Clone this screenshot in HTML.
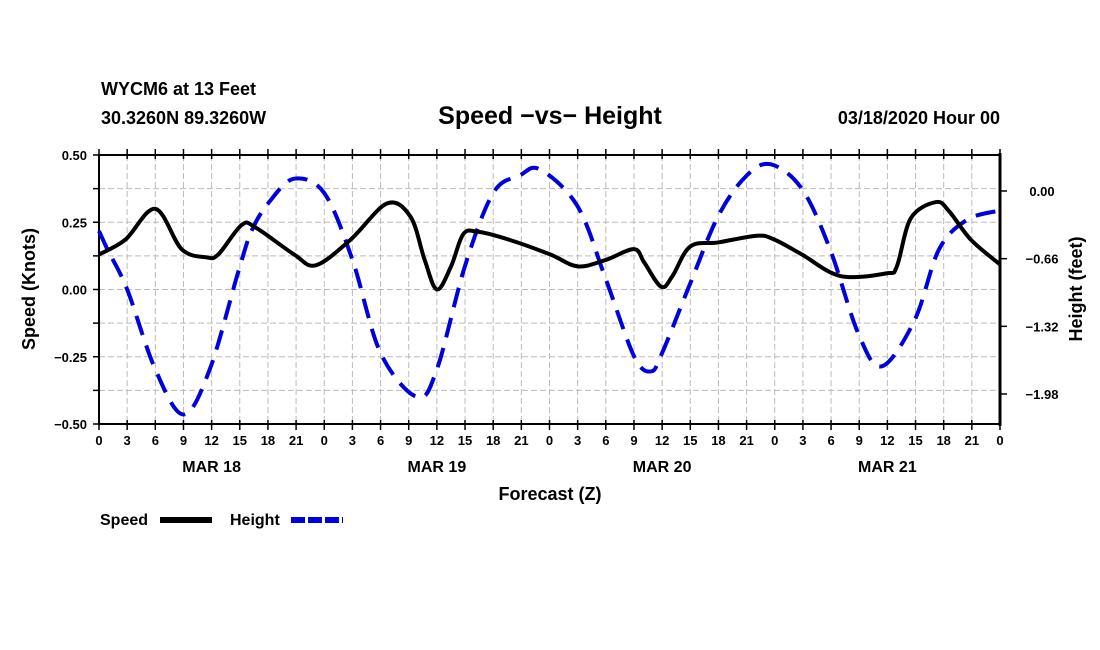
<!DOCTYPE html>
<html><head><meta charset="utf-8">
<style>
body{margin:0;background:#fff;}
svg{display:block;font-family:"Liberation Sans",sans-serif;font-weight:bold;}
</style></head>
<body>
<svg id="chart" width="1100" height="650" viewBox="0 0 1100 650">
<text x="101" y="95" font-size="18">WYCM6 at 13 Feet</text>
<text x="101" y="124" font-size="18">30.3260N 89.3260W</text>
<text x="550" y="124" font-size="25" text-anchor="middle">Speed −vs− Height</text>
<text x="1000" y="124" font-size="18" text-anchor="end">03/18/2020 Hour 00</text>
<g id="grid"></g>
<g id="axes"></g>
<g id="series"></g>
<text transform="translate(35,289) rotate(-90)" font-size="18" text-anchor="middle">Speed (Knots)</text>
<text transform="translate(1082,289) rotate(-90)" font-size="18" text-anchor="middle">Height (feet)</text>
<text x="550" y="500" font-size="18" text-anchor="middle">Forecast (Z)</text>
<g>
<text x="100" y="525" font-size="16">Speed</text>
<line x1="160" y1="520" x2="212" y2="520" stroke="#000" stroke-width="6"/>
<text x="230" y="525" font-size="16">Height</text>
<line x1="291" y1="520" x2="343" y2="520" stroke="#0000dd" stroke-width="6" stroke-dasharray="14,3"/>
</g>
</svg>
<script>
const speedHours=[0,2.8,6,8.8,11.4,12.7,15.2,16.7,20.8,23.1,26.8,30.7,33.2,34.7,36,37.5,38.8,40.3,43.7,48.1,51,54,57,58.1,59.9,61.1,63,66,70.1,72,74.9,79,83.9,85,86.5,89.2,90.6,92.9,96];
const speedValues=[0.13,0.185,0.30,0.15,0.12,0.13,0.24,0.23,0.13,0.09,0.185,0.32,0.27,0.11,0.0,0.085,0.205,0.215,0.185,0.13,0.086,0.11,0.15,0.10,0.01,0.05,0.16,0.175,0.20,0.185,0.13,0.05,0.06,0.085,0.265,0.325,0.29,0.185,0.093];
const heightHours=[0,0.9,3,6,9,11.8,14.8,16.3,18.2,20.8,24,27,30,33.9,36,39,42,44.8,47,51,54,57,58.8,60,63,66,69,71.6,74.9,77.9,80.9,83.4,86.9,89.5,92.5,96];
const heightValues=[-0.39,-0.57,-0.96,-1.74,-2.18,-1.74,-0.80,-0.38,-0.10,0.12,-0.02,-0.67,-1.58,-2.01,-1.74,-0.73,-0.02,0.15,0.21,-0.15,-0.86,-1.61,-1.76,-1.58,-0.90,-0.24,0.15,0.26,0.02,-0.57,-1.39,-1.71,-1.26,-0.57,-0.28,-0.19];
const speedTicks=[0.5,0.25,0,-0.25,-0.5];
const speedTickLabels=["0.50","0.25","0.00","\u22120.25","\u22120.50"];
const heightTicks=[0,-0.66,-1.32,-1.98];
const heightTickLabels=["0.00","\u22120.66","\u22121.32","\u22121.98"];
const hourTickLabels=["0","3","6","9","12","15","18","21"];
const dayLabels=["MAR 18","MAR 19","MAR 20","MAR 21"];

const L=99,R=1000,T=155,B=424;
const NS="http://www.w3.org/2000/svg";
const xS=h=>L+(R-L)*h/96;
const yS=v=>T+(0.5-v)*(B-T);
const yH=f=>191-f*(203/1.98);
function mk(tag,attrs,parent){const e=document.createElementNS(NS,tag);for(const k in attrs)e.setAttribute(k,attrs[k]);parent.appendChild(e);return e;}
const grid=document.getElementById('grid'),axes=document.getElementById('axes'),series=document.getElementById('series');
for(let i=1;i<32;i++){const x=xS(i*3);
 const g=mk('line',{x1:x,x2:x,y1:T,y2:B,stroke:'#bbb','stroke-width':1,'stroke-dasharray':'6,3'},grid);
 
 }
for(let i=1;i<8;i++){const y=T+(B-T)*i/8;
 const g=mk('line',{x1:L,x2:R,y1:y,y2:y,stroke:'#bbb','stroke-width':1,'stroke-dasharray':'6,3'},grid);
 
 }
mk('rect',{x:L,y:T,width:R-L,height:B-T,fill:'none',stroke:'#000','stroke-width':2},axes);
mk('line',{x1:R,x2:R,y1:T-2,y2:B+2,stroke:'#000','stroke-width':3},axes);
for(let i=0;i<=32;i++){const x=xS(i*3);
 mk('line',{x1:x,x2:x,y1:T-6,y2:T+4,stroke:'#000','stroke-width':1.5},axes);
 mk('line',{x1:x,x2:x,y1:B-4,y2:B+6,stroke:'#000','stroke-width':1.5},axes);
 const t=mk('text',{x:x,y:B+21,'font-size':13,'text-anchor':'middle'},axes);
 t.textContent=hourTickLabels[i%8];
 
 }
dayLabels.forEach((d,i)=>{const t=mk('text',{x:xS(i*24+12),y:B+48,'font-size':16,'text-anchor':'middle'},axes);
 t.textContent=d;
 
 });
for(let i=0;i<=8;i++){const y=T+(B-T)*i/8;mk('line',{x1:L-6,x2:L,y1:y,y2:y,stroke:'#000','stroke-width':1.5},axes);}
speedTicks.forEach((v,i)=>{const t=mk('text',{x:L-12,y:yS(v)+5,'font-size':13,'text-anchor':'end'},axes);
 t.textContent=speedTickLabels[i];
 
 });
heightTicks.forEach((v,i)=>{mk('line',{x1:R,x2:R+7,y1:yH(v),y2:yH(v),stroke:'#000','stroke-width':1.5},axes);
 const t=mk('text',{x:1042,y:yH(v)+5,'font-size':13,'text-anchor':'middle'},axes);
 t.textContent=heightTickLabels[i];
 
 });
function smooth(pts){let d='M'+pts[0][0]+','+pts[0][1];
 for(let i=0;i<pts.length-1;i++){const p0=pts[Math.max(0,i-1)],p1=pts[i],p2=pts[i+1],p3=pts[Math.min(pts.length-1,i+2)];
  const c1=[p1[0]+(p2[0]-p0[0])/6,p1[1]+(p2[1]-p0[1])/6],c2=[p2[0]-(p3[0]-p1[0])/6,p2[1]-(p3[1]-p1[1])/6];
  d+=' C'+c1.join(',')+' '+c2.join(',')+' '+p2.join(',');}
 return d;}
const hp=mk('path',{d:smooth(heightHours.map((h,i)=>[xS(h),yH(heightValues[i])])),fill:'none',stroke:'#0000dd','stroke-width':4,'stroke-dasharray':'20,11'},series);


const sp=mk('path',{d:smooth(speedHours.map((h,i)=>[xS(h),yS(speedValues[i])])),fill:'none',stroke:'#000','stroke-width':4,'stroke-linejoin':'round'},series);


</script>
</body></html>
